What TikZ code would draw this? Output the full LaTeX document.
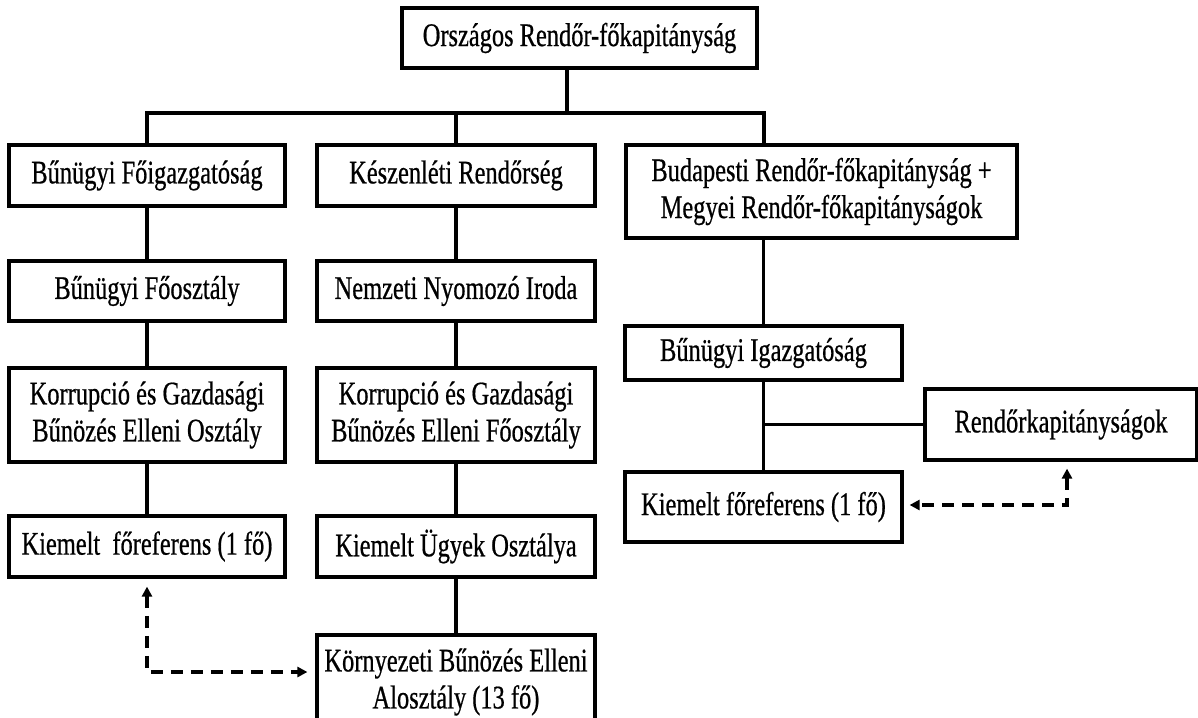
\documentclass[tikz,border=0pt]{standalone}
\usepackage{fontspec}
\setmainfont{Liberation Serif}[FakeStretch=0.74,FakeBold=0.6]
\usetikzlibrary{arrows.meta,calc}
\begin{document}
\begin{tikzpicture}[x=1pt,y=-1pt,
  box/.style={draw, line width=3.2pt, rectangle, inner sep=0pt, align=center,
    font=\fontsize{33}{37}\selectfont, fill=white},
  conn/.style={line width=3.8pt},
  barline/.style={line width=4.6pt, line cap=rect},
  dasharrow/.style={line width=3.5pt, dash pattern=on 12pt off 8pt,
    {Triangle[length=10pt,width=10pt]}-{Triangle[length=10pt,width=10pt]}}]
\fill[white] (0,0) rectangle (1198,717);
\useasboundingbox (0,0) rectangle (1198,717);

% top
\node[box, minimum width=355pt, minimum height=60pt] (top) at (579.5,38) {Országos Rendőr-főkapitányság};

% left column
\node[box, minimum width=276pt, minimum height=61pt] (b1) at (147,175.5) {Bűnügyi Főigazgatóság};
\node[box, minimum width=276pt, minimum height=60pt] (b2) at (147,291) {Bűnügyi Főosztály};
\node[box, minimum width=276pt, minimum height=94pt] (b3) at (147,415) {Korrupció és Gazdasági\\Bűnözés Elleni Osztály};
\node[box, minimum width=276pt, minimum height=61pt] (b4) at (147,546.5) {Kiemelt~ főreferens (1 fő)};

% middle column
\node[box, minimum width=278pt, minimum height=61pt] (k1) at (456,175.5) {Készenléti Rendőrség};
\node[box, minimum width=278pt, minimum height=60pt] (k2) at (456,291) {Nemzeti Nyomozó Iroda};
\node[box, minimum width=278pt, minimum height=94pt] (k3) at (456,415) {Korrupció és Gazdasági\\Bűnözés Elleni Főosztály};
\node[box, minimum width=278pt, minimum height=61pt] (k4) at (456,546.5) {Kiemelt Ügyek Osztálya};
\node[box, minimum width=278pt, minimum height=94pt] (k5) at (456,682) {Környezeti Bűnözés Elleni\\Alosztály (13 fő)};

% right column
\node[box, minimum width=391pt, minimum height=93pt] (bp) at (821.5,191.5) {Budapesti Rendőr-főkapitányság +\\Megyei Rendőr-főkapitányságok};
\node[box, minimum width=277pt, minimum height=54pt] (bi) at (763.5,353) {Bűnügyi Igazgatóság};
\node[box, minimum width=272pt, minimum height=71pt] (rk) at (1061,424.5) {Rendőrkapitányságok};
\node[box, minimum width=277pt, minimum height=70pt] (rkf) at (763.5,507) {Kiemelt főreferens (1 fő)};

% junction coordinates
\coordinate (jl) at (147,113);
\coordinate (jr) at (764,113);
\coordinate (jt) at (567,113);
\coordinate (lh) at (0,672);
\coordinate (ra) at (1067,0);
\coordinate (rh) at (0,505);

% top connectors
\draw[barline] (top.south -| jt) -- (jt);
\draw[barline] (jl) -- (jr);
\draw[conn] (jl) -- (b1.north);
\draw[conn] (k1.north |- jl) -- (k1.north);
\draw[conn] (jr) -- (jr |- bp.north);

% left column
\draw[conn] (b1.south) -- (b2.north);
\draw[conn] (b2.south) -- (b3.north);
\draw[conn] (b3.south) -- (b4.north);

% middle column
\draw[conn] (k1.south) -- (k2.north);
\draw[conn] (k2.south) -- (k3.north);
\draw[conn] (k3.south) -- (k4.north);
\draw[conn] (k4.south) -- (k5.north);

% right column
\draw[conn] (bp.south -| bi.north) -- (bi.north);
\draw[conn] (bi.south) -- (rkf.north);
\draw[conn] (rk.west) -- (rk.west -| bi.south);

% dashed arrows
\draw[dasharrow] ([yshift=-8pt]b4.south) |- ([xshift=-8pt]k5.west |- lh);
\draw[dasharrow] ([yshift=-7pt]rk.south -| ra) |- ([xshift=6pt]rkf.east |- rh);
\end{tikzpicture}
\end{document}
